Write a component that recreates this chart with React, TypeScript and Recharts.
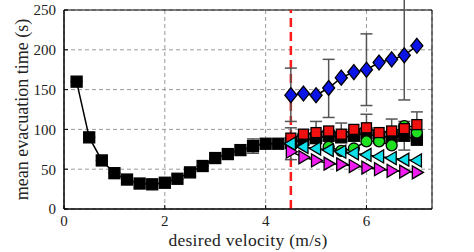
import React from 'react';
import { ComposedChart, Line, XAxis, YAxis, CartesianGrid, ReferenceLine, ReferenceArea, ErrorBar } from 'recharts';

const blackX = [0.25, 0.5, 0.75, 1, 1.25, 1.5, 1.75, 2, 2.25, 2.5, 2.75, 3, 3.25, 3.5, 3.75, 4, 4.25, 4.5, 4.75, 5, 5.25, 5.5, 5.75, 6, 6.25, 6.5, 6.75, 7];
const blackY = [160, 90, 61, 45, 37, 32, 31, 33, 38, 46, 54, 64, 69, 74, 79, 82, 82, 83, 87, 89, 92, 90, 92, 95, 90, 91, 92, 87];
const blackLo = [null, null, null, null, null, null, null, null, null, null, null, null, null, null, 70, null, null, 62, null, null, null, null, null, null, null, null, 74, null];
const blackHi = [null, null, null, null, null, null, null, null, null, null, null, null, null, null, 88, null, null, 102, null, null, null, null, null, null, null, null, 110, null];

const highX = [4.5, 4.75, 5, 5.25, 5.5, 5.75, 6, 6.25, 6.5, 6.75, 7];
const blueY = [143, 145, 143, 152, 165, 172, 175, 184, 188, 193, 205];
const blueLo = [110, null, null, 115, null, null, 130, null, null, 137, null];
const blueHi = [177, null, null, 188, null, null, 220, null, null, 265, null];
const redY = [89, 94, 96, 98, 94, 100, 102, 96, 98, 101, 106];
const redLo = [null, null, 85, null, 85, null, 85, null, 85, null, 90];
const redHi = [null, null, 110, null, 108, null, 119, null, 113, null, 122];
const greenX = [5.25, 5.5, 5.75, 6, 6.25, 6.5, 6.75, 7];
const greenY = [78, 73, 76, 85, 85, 80, 104, 96];
const cyanY = [82, 78, 76, 74, 72, 70, 68, 66, 64, 62, 61];
const magentaY = [72, 65, 61, 57, 56, 54, 52, 50, 48, 47, 46];

const xTicks = [0, 2, 4, 6];
const yTicks = [0, 50, 100, 150, 200, 250];

const build = (xs: number[], ys: number[], lo?: (number | null)[], hi?: (number | null)[]) =>
  xs.map((x, i) => ({
    x,
    y: ys[i],
    err: lo && hi && lo[i] != null && hi[i] != null ? [ys[i] - (lo[i] as number), (hi[i] as number) - ys[i]] : [0, 0],
  }));

const blackData = build(blackX, blackY, blackLo, blackHi);
const blueData = build(highX, blueY, blueLo, blueHi);
const redData = build(highX, redY, redLo, redHi);
const greenData = build(greenX, greenY);
const cyanData = build(highX, cyanY);
const magentaData = build(highX, magentaY);

const FONT = '"Liberation Serif", "DejaVu Serif", serif';

const square = (fill: string, s: number) => (p: any) => (
  <rect key={`sq-${fill}-${p.index}`} x={p.cx - s / 2} y={p.cy - s / 2} width={s} height={s} fill={fill} stroke="#000" strokeWidth={1.3} />
);
const diamond = (fill: string, s: number) => (p: any) => (
  <polygon key={`dm-${p.index}`} points={`${p.cx},${p.cy - s} ${p.cx + s * 0.8},${p.cy} ${p.cx},${p.cy + s} ${p.cx - s * 0.8},${p.cy}`} fill={fill} stroke="#000" strokeWidth={1.3} />
);
const circle = (fill: string, r: number) => (p: any) => (
  <circle key={`ci-${p.index}`} cx={p.cx} cy={p.cy} r={r} fill={fill} stroke="#000" strokeWidth={1.3} />
);
const triLeft = (fill: string, s: number) => (p: any) => (
  <polygon key={`tl-${p.index}`} points={`${p.cx - s},${p.cy} ${p.cx + s * 0.7},${p.cy - s} ${p.cx + s * 0.7},${p.cy + s}`} fill={fill} stroke="#000" strokeWidth={1.3} />
);
const triRight = (fill: string, s: number) => (p: any) => (
  <polygon key={`tr-${p.index}`} points={`${p.cx + s},${p.cy} ${p.cx - s * 0.7},${p.cy - s} ${p.cx - s * 0.7},${p.cy + s}`} fill={fill} stroke="#000" strokeWidth={1.3} />
);

const errProps = { dataKey: 'err', width: 6, stroke: '#555', strokeWidth: 1.5, direction: 'y' as const };

export default function App() {
  return (
    <div style={{ position: 'absolute', left: 0, top: 0, fontFamily: FONT }}>
      <ComposedChart width={474} height={252} margin={{ top: 10, right: 42, bottom: 0, left: 0 }} style={{ fontFamily: FONT }}>
        <CartesianGrid stroke="#999" strokeDasharray="4 3" />
        <XAxis
          type="number"
          dataKey="x"
          domain={[0, 7.3]}
          ticks={xTicks}
          height={43}
          allowDataOverflow
          stroke="#000"
          tickSize={-4}
          tickMargin={10}
          tick={{ fill: '#222', fontSize: 15, fontFamily: FONT, style: { fontFamily: FONT } }}
          label={{ value: 'desired velocity (m/s)', position: 'insideBottom', offset: 6, fill: '#222', fontSize: 17.5, style: { fontFamily: FONT, letterSpacing: '0.3px' } }}
        />
        <YAxis
          type="number"
          domain={[0, 250]}
          ticks={yTicks}
          width={64}
          allowDataOverflow
          stroke="#000"
          tickSize={-4}
          tickMargin={12}
          tick={{ fill: '#222', fontSize: 15, fontFamily: FONT, style: { fontFamily: FONT } }}
          label={{ value: 'mean evacuation time (s)', angle: -90, position: 'insideLeft', offset: 22, style: { textAnchor: 'middle', fontFamily: FONT }, fill: '#222', fontSize: 18 }}
        />
        <ReferenceArea x1={0} x2={7.3} y1={0} y2={250} fill="none" stroke="#000" strokeWidth={1} />
        <ReferenceLine x={4.5} stroke="#ff1a1a" strokeWidth={2.5} strokeDasharray="9 5" />
        <Line data={blackData} dataKey="y" stroke="#000" strokeWidth={1.5} dot={square('#000', 11)} isAnimationActive={false}>
          <ErrorBar {...errProps} />
        </Line>
        <Line data={blueData} dataKey="y" stroke="#000" strokeWidth={1.5} dot={diamond('#0a14e6', 7.5)} isAnimationActive={false}>
          <ErrorBar {...errProps} />
        </Line>
        <Line data={greenData} dataKey="y" stroke="#000" strokeWidth={1.5} dot={circle('#1fe01f', 5.5)} isAnimationActive={false} />
        <Line data={redData} dataKey="y" stroke="#000" strokeWidth={1.5} dot={square('#f01010', 10)} isAnimationActive={false}>
          <ErrorBar {...errProps} />
        </Line>
        <Line data={cyanData} dataKey="y" stroke="#000" strokeWidth={1.5} dot={triLeft('#10e0ec', 6.5)} isAnimationActive={false} />
        <Line data={magentaData} dataKey="y" stroke="#000" strokeWidth={1.5} dot={triRight('#f01cf0', 6.5)} isAnimationActive={false} />
      </ComposedChart>
    </div>
  );
}
